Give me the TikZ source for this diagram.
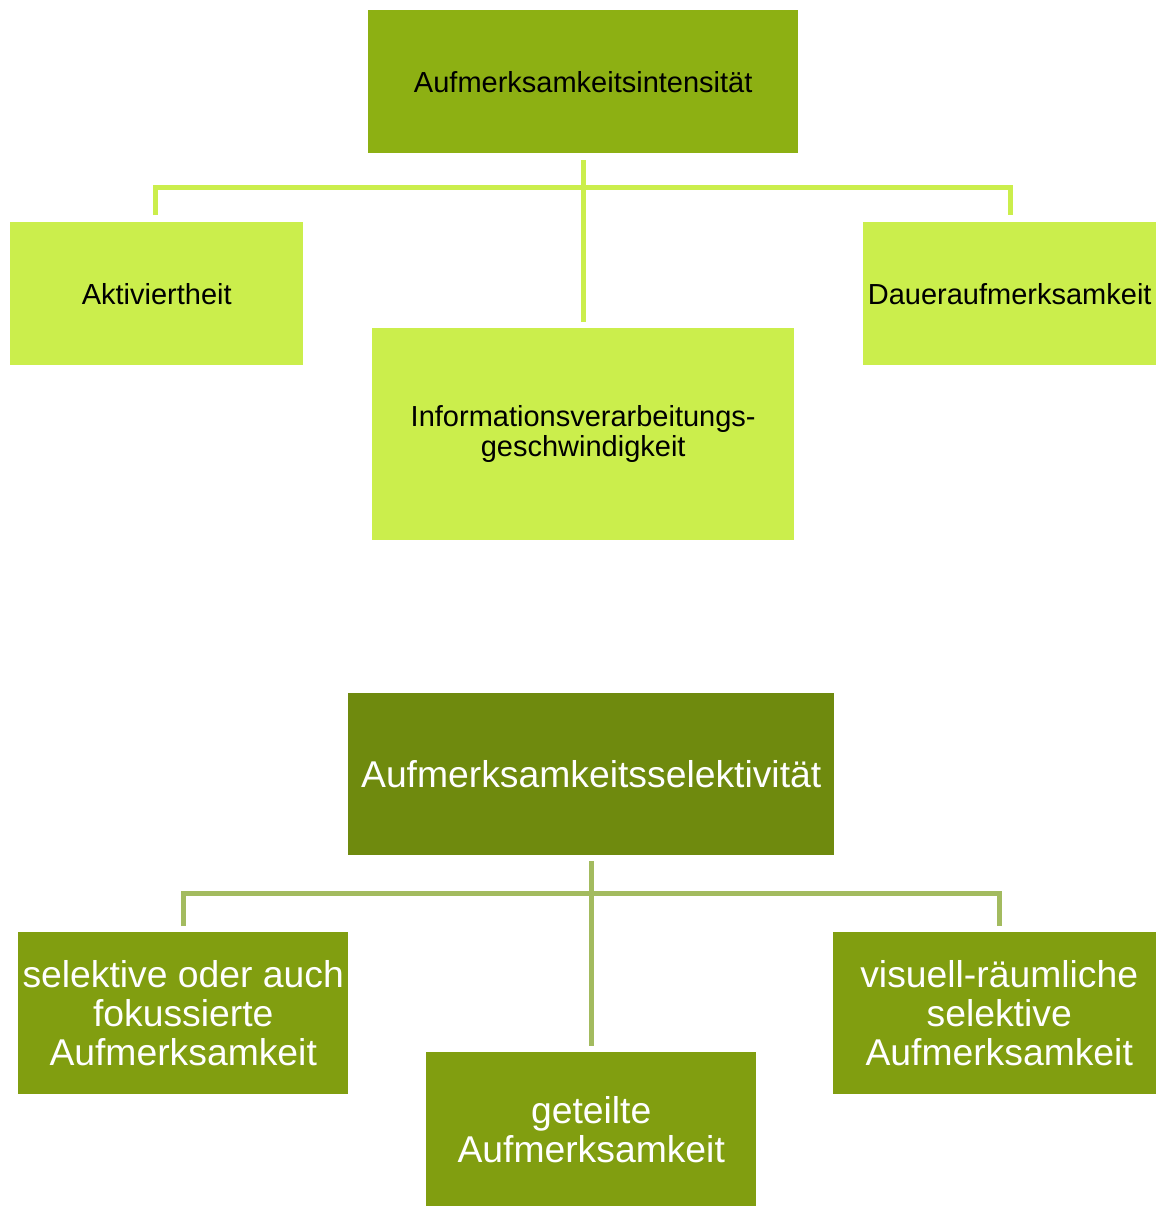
\documentclass[tikz,border=0pt]{standalone}
\usepackage{fontspec}
\setmainfont{Liberation Sans}
\definecolor{topdark}{RGB}{141,176,19}
\definecolor{toplight}{RGB}{203,238,76}
\definecolor{botdark}{RGB}{111,138,14}
\definecolor{botmid}{RGB}{129,158,16}
\definecolor{botline}{RGB}{163,187,95}
\begin{document}
\begin{tikzpicture}[x=1pt,y=-1pt,
  box/.style={rectangle,inner sep=0pt,align=center,anchor=north west},
  upbox/.style={box,font=\fontsize{29}{30}\selectfont,text=black},
  lowbox/.style={box,font=\fontsize{37.3}{39}\selectfont,text=white},
  upline/.style={draw=toplight,line width=5pt},
  lowline/.style={draw=botline,line width=5pt}]
\useasboundingbox (0,0) rectangle (1157,1207);
% upper tree
\node[upbox,fill=topdark,minimum width=430pt,minimum height=143pt] (ai) at (368,10) {Aufmerksamkeitsintensität};
\node[upbox,fill=toplight,minimum width=293pt,minimum height=143pt] (ak) at (10,222) {Aktiviertheit};
\node[upbox,fill=toplight,minimum width=422pt,minimum height=212pt] (iv) at (372,328) {Informationsverarbeitungs-\\geschwindigkeit};
\node[upbox,fill=toplight,minimum width=293pt,minimum height=143pt] (da) at (863,222) {Daueraufmerksamkeit};
\coordinate (ujl) at (155,187);
\coordinate (ujr) at (1010,187);
\draw[upline] ([yshift=-7pt]ai.south -| iv.north) -- ([yshift=6pt]iv.north);
\draw[upline] ([yshift=7pt]ak.north -| ujl) -- (ujl) -- (ujr) -- ([yshift=7pt]da.north -| ujr);
% lower tree
\node[lowbox,fill=botdark,minimum width=486pt,minimum height=162pt] (as) at (348,693) {Aufmerksamkeitsselektivität};
\node[lowbox,fill=botmid,minimum width=330pt,minimum height=162pt] (sf) at (18,932) {selektive oder auch\\fokussierte\\Aufmerksamkeit};
\node[lowbox,fill=botmid,minimum width=330pt,minimum height=154pt] (ge) at (426,1052) {\raisebox{-3pt}{\parbox{330pt}{\centering geteilte\\Aufmerksamkeit}}};
\node[lowbox,fill=botmid,minimum width=323pt,minimum height=162pt] (vr) at (833,932) {\hspace*{9pt}\parbox{314pt}{\centering visuell-räumliche\\selektive\\Aufmerksamkeit}};
\coordinate (ljl) at (183,893);
\coordinate (ljr) at (999,893);
\draw[lowline] ([yshift=-6pt]as.south -| ge.north) -- ([yshift=6pt]ge.north);
\draw[lowline] ([yshift=6pt]sf.north -| ljl) -- (ljl) -- (ljr) -- ([yshift=6pt]vr.north -| ljr);
\end{tikzpicture}
\end{document}
